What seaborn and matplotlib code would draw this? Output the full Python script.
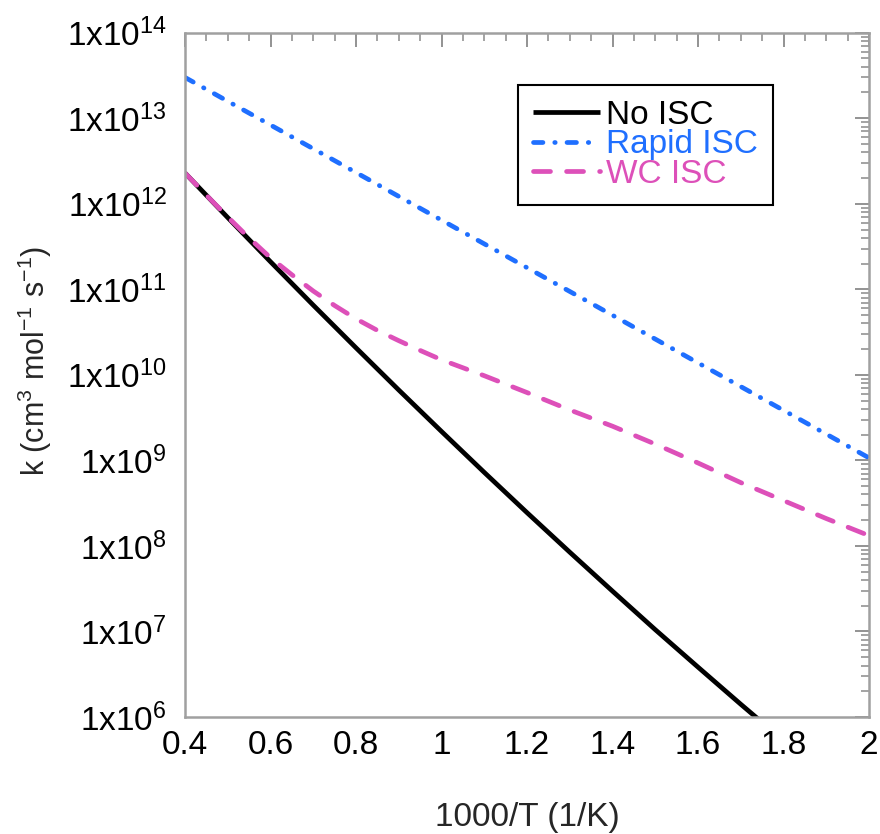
import numpy as np
import pandas as pd
import matplotlib
matplotlib.use("Agg")
import matplotlib.pyplot as plt
import seaborn as sns
from matplotlib.ticker import FixedLocator, LogLocator, FuncFormatter, MultipleLocator, NullFormatter

# ---- data ----
x_no = [0.4, 0.5, 0.6, 0.7, 0.8, 0.9, 1.0, 1.1, 1.2, 1.3, 1.4, 1.5, 1.6, 1.7, 1.8]
k_no = [2.29e12, 6.89e11, 2.10e11, 6.53e10, 2.07e10, 6.65e9, 2.18e9, 7.24e8,
        2.45e8, 8.45e7, 2.96e7, 1.05e7, 3.83e6, 1.41e6, 5.30e5]

x_rapid = [0.4, 0.5, 0.6, 0.7, 0.8, 0.9, 1.0, 1.1, 1.2, 1.3, 1.4, 1.5, 1.6, 1.7, 1.8, 1.9, 2.0]
k_rapid = [3.0e13, 1.58e13, 8.34e12, 4.40e12, 2.32e12, 1.22e12, 6.44e11, 3.40e11,
           1.79e11, 9.44e10, 4.98e10, 2.62e10, 1.38e10, 7.29e9, 3.85e9, 2.03e9, 1.07e9]

x_wc = [0.4, 0.45, 0.5, 0.55, 0.6, 0.65, 0.7, 0.75, 0.8, 0.85, 0.9, 0.95, 1.0,
        1.1, 1.2, 1.3, 1.4, 1.5, 1.6, 1.7, 1.8, 1.9, 2.0]
k_wc = [2.29e12, 1.26e12, 7.00e11, 3.98e11, 2.34e11, 1.48e11, 9.55e10, 6.46e10,
        4.52e10, 3.31e10, 2.51e10, 1.93e10, 1.50e10, 9.77e9, 6.21e9, 3.89e9,
        2.51e9, 1.55e9, 9.33e8, 5.50e8, 3.39e8, 2.09e8, 1.32e8]

series_names = ["No ISC", "Rapid ISC", "WC ISC"]
series_colors = ["#000000", "#1F6FFF", "#DD50B9"]
x_ticks = [0.4, 0.6, 0.8, 1.0, 1.2, 1.4, 1.6, 1.8, 2.0]
x_tick_labels = ["0.4", "0.6", "0.8", "1", "1.2", "1.4", "1.6", "1.8", "2"]
y_decades = [1e6, 1e7, 1e8, 1e9, 1e10, 1e11, 1e12, 1e13, 1e14]

# ---- style ----
sns.set_style("white")
plt.rcParams["font.family"] = ["Liberation Sans", "DejaVu Sans"]
plt.rcParams["mathtext.fontset"] = "custom"
plt.rcParams["mathtext.rm"] = "Liberation Sans"
plt.rcParams["mathtext.it"] = "Liberation Sans"
plt.rcParams["mathtext.bf"] = "Liberation Sans"

fig = plt.figure(figsize=(8.8, 8.34), dpi=100)
ax = fig.add_axes([185 / 880, 1 - 717 / 834, (869 - 185) / 880, (717 - 32.7) / 834])

lw = 3.4
sns.lineplot(x=x_no, y=k_no, ax=ax, color=series_colors[0], lw=lw,
             label=series_names[0], solid_capstyle="butt")
sns.lineplot(x=x_rapid, y=k_rapid, ax=ax, color=series_colors[1], lw=lw,
             label=series_names[1], linestyle=(0, (2.0, 2.5, 0.1, 2.5)),
             dash_capstyle="round")
sns.lineplot(x=x_wc, y=k_wc, ax=ax, color=series_colors[2], lw=lw,
             label=series_names[2], linestyle=(0, (3.6, 3.4)),
             dash_capstyle="round")

ax.set_yscale("log")
ax.set_xlim(0.4, 2.0)
ax.set_ylim(1e6, 1e14)

ax.xaxis.set_major_locator(FixedLocator(x_ticks))
ax.set_xticklabels(x_tick_labels)
ax.xaxis.set_minor_locator(MultipleLocator(0.05))
ax.yaxis.set_major_locator(FixedLocator(y_decades))
ax.yaxis.set_major_formatter(FuncFormatter(
    lambda v, p: r"1x10$^{%d}$" % int(round(np.log10(v)))))
ax.yaxis.set_minor_locator(LogLocator(base=10, subs=np.arange(2, 10), numticks=20))
ax.yaxis.set_minor_formatter(NullFormatter())

tick_col = "#8a8a8a"
ax.tick_params(which="major", direction="in", length=10, width=1.3, color=tick_col,
               top=True, right=True, labelsize=24, labelcolor="black")
ax.tick_params(axis="x", which="major", pad=9)
ax.tick_params(axis="y", which="major", pad=13)
ax.tick_params(which="minor", direction="in", length=6, width=1.1, color=tick_col,
               top=True, right=True)
for s in ax.spines.values():
    s.set_color("#a0a0a0")
    s.set_linewidth(1.8)

ax.set_xlabel("1000/T (1/K)", fontsize=24, labelpad=30)
ax.set_ylabel(r"k (cm$^{3}$ mol$^{-1}$ s$^{-1}$)", fontsize=22)
ax.yaxis.set_label_coords(-0.192, 0.52)

leg = ax.legend(loc="upper left", bbox_to_anchor=(518 / 880, 1 - 85 / 834),
                bbox_transform=fig.transFigure, borderaxespad=0,
                fontsize=24, frameon=True, fancybox=False, framealpha=1,
                edgecolor="black", handlelength=2.0, handletextpad=0.2,
                labelspacing=-0.05, borderpad=0.45, labelcolor=series_colors)
leg.get_frame().set_linewidth(1.5)

fig.savefig("out.png", dpi=100)
